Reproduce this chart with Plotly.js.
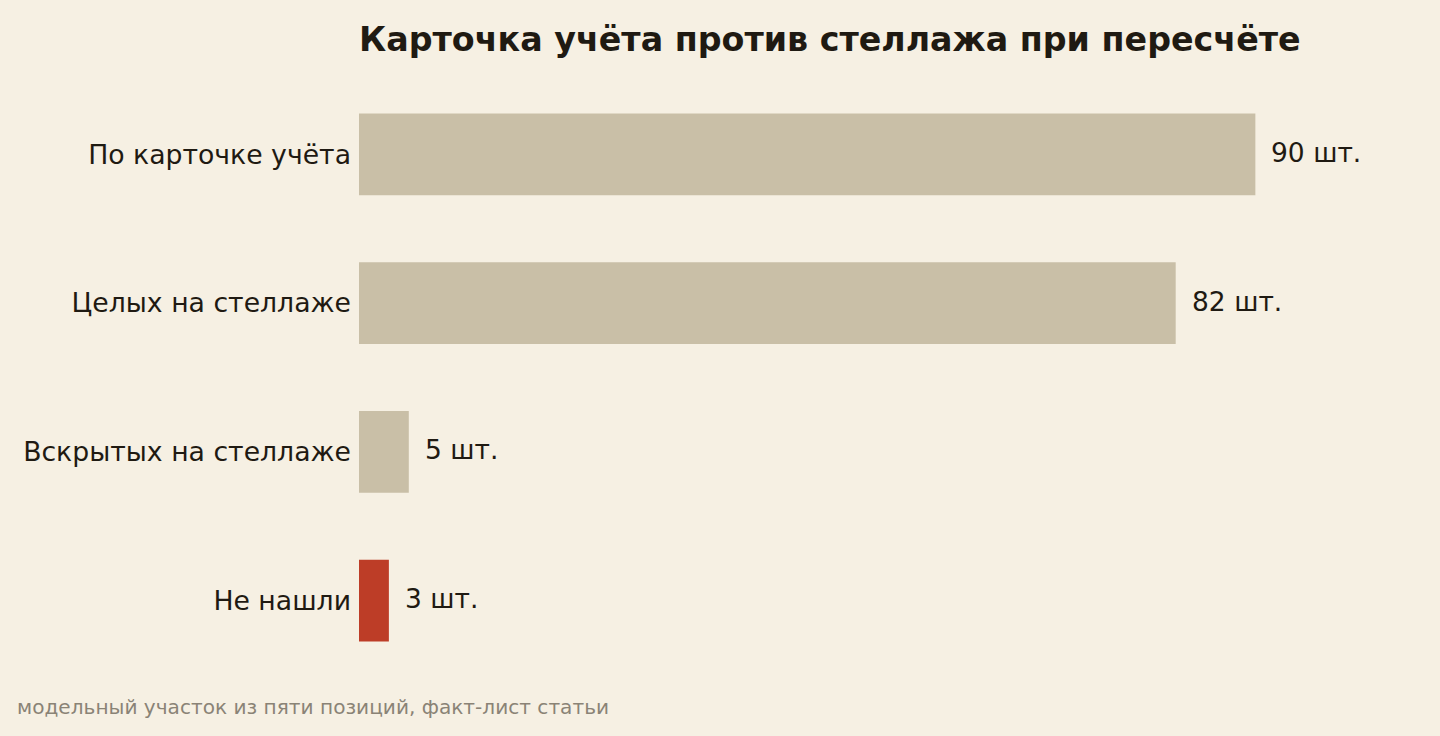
<!DOCTYPE html>
<html>
<head>
<meta charset="utf-8">
<script src="https://cdn.plot.ly/plotly-3.0.1.min.js"></script>
<style>
html,body{margin:0;padding:0;background:#f6f0e3;}
#chart{width:1440px;height:736px;}
</style>
</head>
<body>
<div id="chart"></div>
<script>
const categories = ["По карточке учёта", "Целых на стеллаже", "Вскрытых на стеллаже", "Не нашли"];
const values = [90, 82, 5, 3];
const valueLabels = ["90 шт.", "82 шт.", "5 шт.", "3 шт."];
const barColors = ["#c9bfa7", "#c9bfa7", "#c9bfa7", "#bd3d27"];
const titleText = "Карточка учёта против стеллажа при пересчёте";
const footnote = "модельный участок из пяти позиций, факт-лист статьи";

const FONT = "DejaVu Sans, sans-serif";
const ink = "#1f1a12";

const trace = {
  type: "bar",
  orientation: "h",
  y: categories,
  x: values,
  marker: {color: barColors},
  hoverinfo: "none",
  cliponaxis: false
};

const annotations = categories.map((c, i) => ({
  x: values[i], y: c, xref: "x", yref: "y",
  text: valueLabels[i], showarrow: false,
  xanchor: "left", yanchor: "middle", xshift: 14, yshift: 2,
  font: {family: FONT, size: 26.5, color: ink}
}));
annotations.push({
  xref: "paper", yref: "paper", x: -359/986 + 15/986, y: 0,
  xanchor: "left", yanchor: "top", yshift: -18,
  text: footnote, showarrow: false,
  font: {family: FONT, size: 20.1, color: "#8a8376"}
});

const layout = {
  width: 1440, height: 736,
  paper_bgcolor: "#f6f0e3", plot_bgcolor: "#f6f0e3",
  margin: {l: 359, r: 95, t: 80, b: 61},
  title: {
    text: "<b>" + titleText + "</b>",
    x: 0, xanchor: "left", xref: "paper",
    y: 1, yref: "container", yanchor: "top", pad: {t: 28},
    font: {family: FONT, size: 33.3, color: ink}
  },
  xaxis: {range: [0, 99], visible: false, fixedrange: true},
  yaxis: {
    autorange: "reversed", showgrid: false, zeroline: false, showline: false,
    ticks: "", ticklabelstandoff: 7,
    tickfont: {family: FONT, size: 26.7, color: ink}
  },
  bargap: 0.45,
  showlegend: false,
  annotations: annotations
};

Plotly.newPlot("chart", [trace], layout, {displayModeBar: false, staticPlot: true});
</script>
</body>
</html>
